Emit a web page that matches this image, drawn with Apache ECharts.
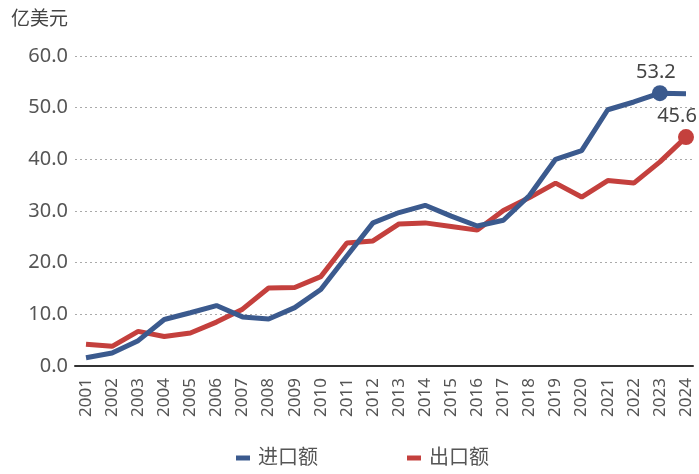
<!DOCTYPE html>
<html>
<head>
<meta charset="utf-8">
<script src="https://cdn.jsdelivr.net/npm/echarts@6/dist/echarts.min.js"></script>
<style>
html,body{margin:0;padding:0;background:#fff;}
#main{width:699px;height:474px;}
</style>
</head>
<body>
<div id="main"></div>
<script>
const years = ['2001','2002','2003','2004','2005','2006','2007','2008','2009','2010','2011','2012','2013','2014','2015','2016','2017','2018','2019','2020','2021','2022','2023','2024'];
const importVals = [1.6,2.5,4.9,9.0,10.3,11.7,9.5,9.1,11.3,14.8,21.3,27.7,29.7,31.1,29.0,27.1,28.2,33.0,40.0,41.7,49.6,51.1,52.8,52.7];
const exportVals = [4.2,3.8,6.7,5.7,6.4,8.5,11.0,15.1,15.2,17.3,23.8,24.2,27.5,27.7,27.0,26.3,30.1,32.6,35.4,32.7,35.9,35.4,39.5,44.3];
const yTicks = [0,10,20,30,40,50,60];
const importMarkIndex = 22, importMarkLabel = '53.2';
const exportMarkIndex = 23, exportMarkLabel = '45.6';

const FONT = '"Noto Sans", "Noto Sans CJK SC", sans-serif';
const BLUE = '#3b5a8e', RED = '#c4403d', TXT = '#555';

function buildData(vals, idx, label, color, offsetX) {
  return vals.map((v, i) => i === idx ? {
    value: v, symbol: 'circle', symbolSize: 16,
    itemStyle: {color: color},
    label: {show: true, position: 'top', distance: 3, offset: [offsetX, 0], formatter: label,
            fontSize: 20, color: '#444', fontFamily: FONT}
  } : {value: v, symbolSize: 0});
}

const chart = echarts.init(document.getElementById('main'));
chart.setOption({
  animation: false,
  backgroundColor: '#fff',
  title: {text: '亿美元', left: 6, top: 5, textStyle: {fontSize: 19, fontWeight: 'normal', color: '#444', fontFamily: FONT}},
  legend: {
    left: 231, top: 443, itemWidth: 14, itemHeight: 5, itemGap: 89, icon: 'rect',
    textStyle: {fontSize: 20, color: TXT, fontFamily: FONT, padding: [0,0,0,3]},
    data: ['进口额', '出口额']
  },
  grid: [
    {left: 75, right: 6, top: 56, bottom: 108},
    {left: 86, right: 13, top: 56, bottom: 108}
  ],
  xAxis: [
    {gridIndex: 0, type: 'value', min: 0, max: 1, axisLine: {show: true, lineStyle: {color: '#333', width: 2}},
     axisTick: {show: false}, axisLabel: {show: false}, splitLine: {show: false}},
    {gridIndex: 1, type: 'category', data: years, boundaryGap: false,
     axisLine: {show: false}, axisTick: {show: false}, splitLine: {show: false},
     axisLabel: {rotate: 90, fontSize: 17, color: TXT, fontFamily: FONT, margin: 12, interval: 0}}
  ],
  yAxis: [
    {gridIndex: 0, type: 'value', min: yTicks[0], max: yTicks[yTicks.length-1], interval: yTicks[1]-yTicks[0],
     axisLine: {show: false}, axisTick: {show: false},
     axisLabel: {fontSize: 20, color: TXT, fontFamily: FONT, margin: 7, formatter: v => v.toFixed(1)},
     splitLine: {show: true, lineStyle: {color: '#aaa', type: [2, 3], width: 1}}},
    {gridIndex: 1, type: 'value', min: yTicks[0], max: yTicks[yTicks.length-1], show: false}
  ],
  series: [
    {name: '进口额', type: 'line', xAxisIndex: 1, yAxisIndex: 1, color: BLUE,
     lineStyle: {width: 5, color: BLUE}, symbol: 'circle',
     data: buildData(importVals, importMarkIndex, importMarkLabel, BLUE, -4), z: 3},
    {name: '出口额', type: 'line', xAxisIndex: 1, yAxisIndex: 1, color: RED,
     lineStyle: {width: 5, color: RED}, symbol: 'circle',
     data: buildData(exportVals, exportMarkIndex, exportMarkLabel, RED, -9), z: 2}
  ]
});
</script>
</body>
</html>
